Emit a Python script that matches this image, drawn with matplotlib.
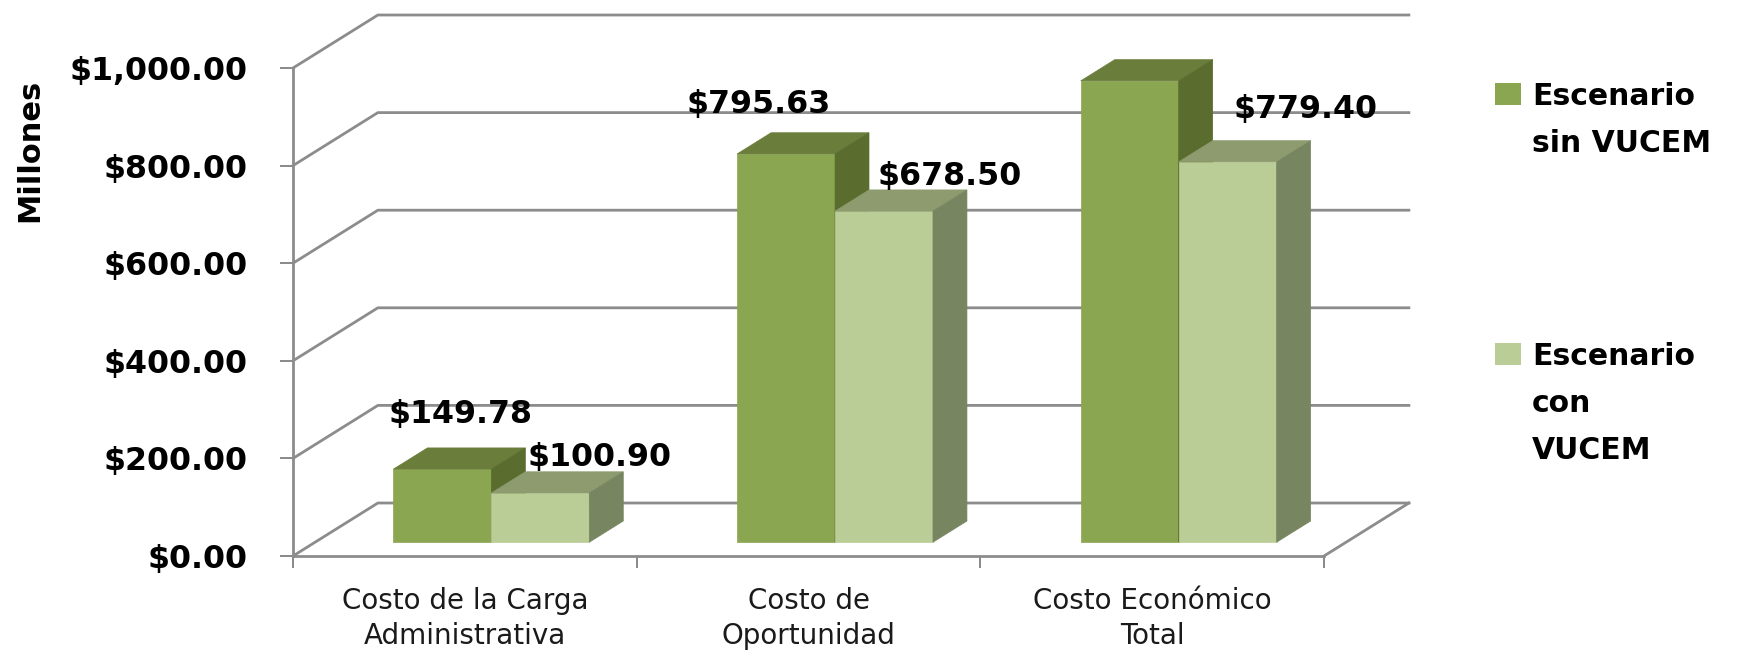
import matplotlib
matplotlib.use("Agg")
import matplotlib.pyplot as plt
from matplotlib.patches import Polygon, Rectangle

categorias = ["Costo de la Carga\nAdministrativa", "Costo de\nOportunidad", "Costo Económico\nTotal"]
series = ["Escenario\nsin VUCEM", "Escenario\ncon\nVUCEM"]
sin_vucem = [149.78, 795.63, 945.40]
con_vucem = [100.90, 678.50, 779.40]
y_ticks = [0, 200, 400, 600, 800, 1000]
y_label = "Millones"

W, H, DPI = 1745, 652, 100
# colores por serie: frente, tapa, lateral
colores = [("#8aa650", "#6b7d3b", "#5a6c2e"), ("#bbcd97", "#8d9b6e", "#778560")]
GRIS = "#8c8c8c"

# perspectiva "3D" (x en categorias, y en unidades del eje)
DX, DY = 0.247, 108.6          # profundidad total del piso
GAP, BW = 0.228, 0.285         # hueco inicial y ancho de barra
Z0, DZ = 0.26, 0.40            # plano frontal de las barras y su fondo
# ajuste de etiquetas (px): dx desde el centro del frente, dy sobre la tapa trasera
nudge = [[(18, 25), (-27, 20), (-2, 8)], [(59, 6), (66, 5), (78, 23)]]

fig = plt.figure(figsize=(W / DPI, H / DPI), dpi=DPI)
ax = fig.add_axes([293 / W, 96 / H, 1031 / W, 488 / H])
n = len(categorias)
ax.set_xlim(0, n); ax.set_ylim(0, y_ticks[-1])

# pared del fondo, pared izquierda y piso
for v in y_ticks:
    ax.plot([0, DX, n + DX], [v, v + DY, v + DY], color=GRIS, lw=2.0, zorder=1, clip_on=False)
ax.plot([n, n + DX], [0, DY], color=GRIS, lw=2.0, zorder=1, clip_on=False)

for s in ("top", "right"):
    ax.spines[s].set_visible(False)
for s in ("left", "bottom"):
    ax.spines[s].set_color(GRIS); ax.spines[s].set_linewidth(2.0)

# barras: frente con ax.bar, tapa y lateral como poligonos
for j, vals in enumerate([sin_vucem, con_vucem]):
    fc, tc, sc = colores[j]
    x0 = [i + GAP + j * BW + Z0 * DX for i in range(n)]
    b0 = Z0 * DY
    ax.bar(x0, vals, width=BW, bottom=b0, align="edge", color=fc, ec=fc, lw=0.5,
           zorder=2 + j, clip_on=False)
    ox, oy = DZ * DX, DZ * DY
    for i, (x, v) in enumerate(zip(x0, vals)):
        top = b0 + v
        ax.add_patch(Polygon([(x, top), (x + BW, top), (x + BW + ox, top + oy), (x + ox, top + oy)],
                             closed=True, fc=tc, ec=tc, lw=0.5, zorder=2 + j, clip_on=False))
        ax.add_patch(Polygon([(x + BW, b0), (x + BW + ox, b0 + oy), (x + BW + ox, top + oy), (x + BW, top)],
                             closed=True, fc=sc, ec=sc, lw=0.5, zorder=2 + j, clip_on=False))
        dx, dy = nudge[j][i]
        ax.annotate("${:,.2f}".format(v), xy=(x + BW / 2, top + oy), xytext=(dx * 0.72, dy * 0.72),
                    textcoords="offset points", ha="center", va="baseline",
                    fontsize=22.8, fontweight="bold", color="black", zorder=10)

# ejes
ax.set_yticks(y_ticks)
ax.set_yticklabels(["${:,.2f}".format(v) for v in y_ticks], fontweight="bold")
ax.tick_params(axis="y", direction="out", length=9.4, width=1.44, color=GRIS, pad=23, labelsize=22.8)
ax.set_xticks(range(n + 1))
ax.set_xticklabels([])
ax.set_xticks([i + 0.5 for i in range(n)], minor=True)
ax.set_xticklabels(categorias, minor=True)
ax.tick_params(axis="x", which="major", direction="out", length=8.6, width=1.44, color=GRIS)
ax.tick_params(axis="x", which="minor", length=0, pad=22, labelsize=20, labelcolor="#1a1a1a")
for t in ax.get_xticklabels(minor=True):
    t.set_linespacing(1.35)

fig.text(30 / W, 1 - 150 / H, y_label, rotation=90, ha="center", va="center",
         fontsize=22, fontweight="bold")

# leyenda (cuadro alineado con la primera linea)
leg_y = [105, 365]
for k, nombre in enumerate(series):
    fig.add_artist(Rectangle((1495 / W, 1 - leg_y[k] / H), 26 / W, 22 / H,
                             transform=fig.transFigure, fc=colores[k][0], ec="none"))
    fig.text(1532 / W, 1 - (leg_y[k] - 23) / H, nombre, ha="left", va="top",
             fontsize=21.5, fontweight="bold", linespacing=1.78)

fig.savefig("out.png", dpi=DPI)
